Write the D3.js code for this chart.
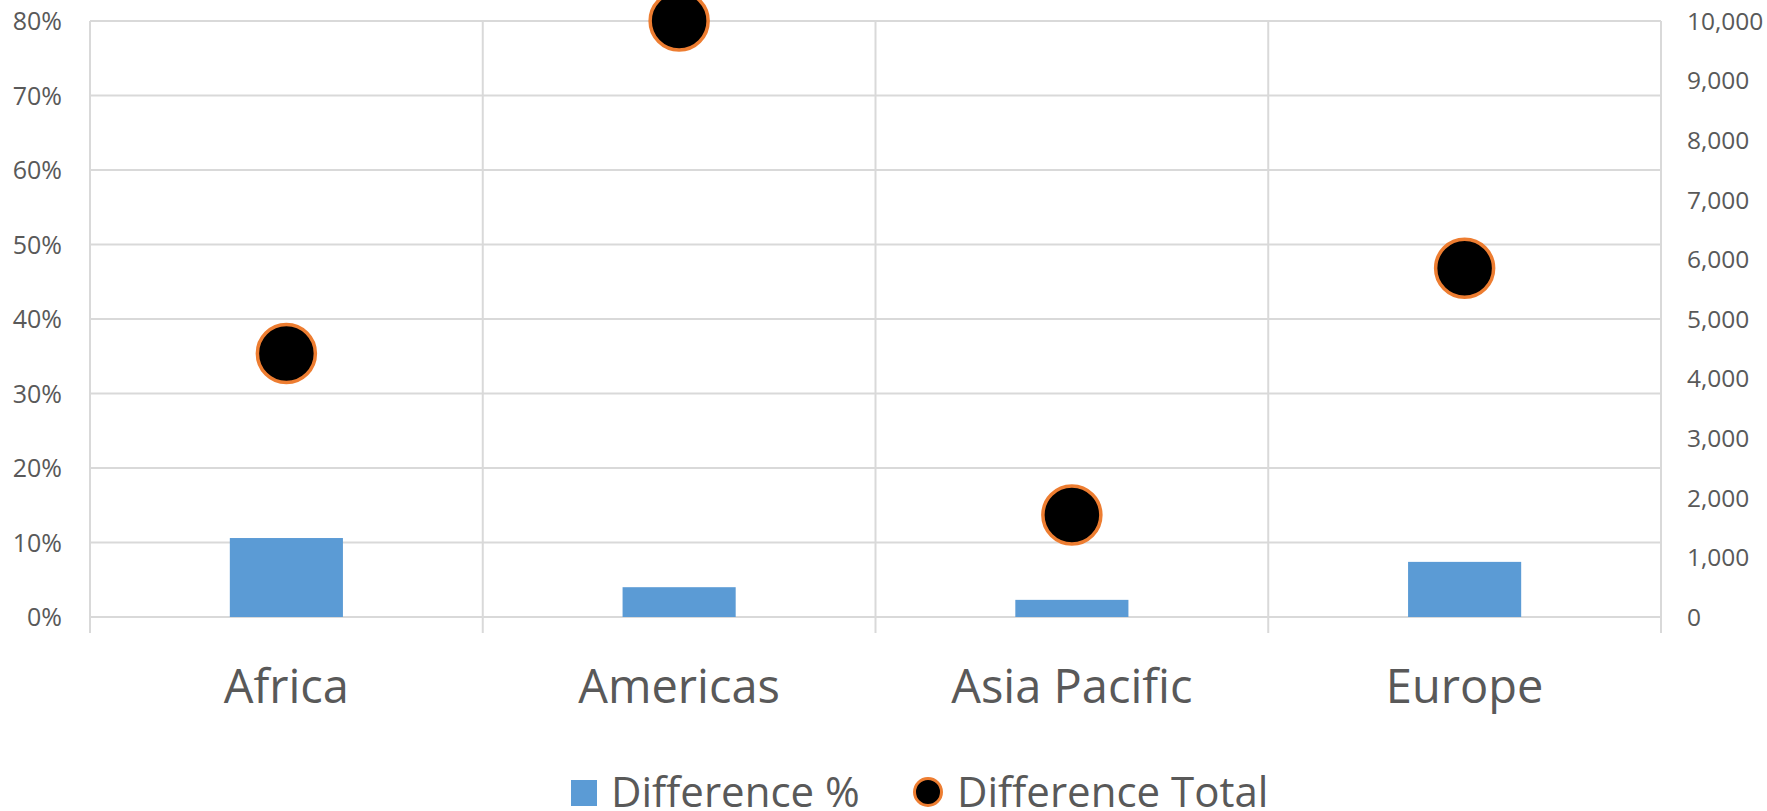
<!DOCTYPE html>
<html lang="en">
<head>
<meta charset="UTF-8">
<title>Difference by region</title>
<script src="https://d3js.org/d3.v7.min.js"></script>
<style>
  *{padding:0; margin:0; box-sizing:border-box;}
  body{background:#fff; width:1767px; height:811px; overflow:hidden;}
  text{font-family:"Open Sans", "Noto Sans", sans-serif; fill:#595959;}
  .grid{stroke:#d9d9d9; stroke-width:2;}
</style>
</head>
<body>
<script>
  // data
  const regions = ["Africa", "Americas", "Asia Pacific", "Europe"];
  const diffPct = [0.106, 0.040, 0.023, 0.074];
  const diffTotal = [4420, 10000, 1710, 5850];
  const pctTicks = [0, 0.1, 0.2, 0.3, 0.4, 0.5, 0.6, 0.7, 0.8];
  const totalTicks = [0, 1000, 2000, 3000, 4000, 5000, 6000, 7000, 8000, 9000, 10000];
  const legendNames = ["Difference %", "Difference Total"];

  const W = 1767, H = 811;
  // plot area edges (window.top is taken, so prefixed names)
  const plotL = 90, plotR = 1661, plotT = 21, plotB = 617;

  let svg = d3.select('body').append('svg').attr('width', W).attr('height', H);

  let x = d3.scaleBand().domain(regions).range([plotL, plotR]).padding(0);
  let yL = d3.scaleLinear().domain([0, 0.8]).range([plotB, plotT]);
  let yR = d3.scaleLinear().domain([0, 10000]).range([plotB, plotT]);

  // horizontal gridlines
  svg.append('g').selectAll('line').data(pctTicks).enter().append('line')
     .attr('class', 'grid')
     .attr('x1', plotL).attr('x2', plotR)
     .attr('y1', d => yL(d)).attr('y2', d => yL(d));

  // vertical category dividers (they run down past the baseline like ticks)
  let edges = regions.map(r => x(r)).concat([plotR]);
  svg.append('g').selectAll('line').data(edges).enter().append('line')
     .attr('class', 'grid')
     .attr('x1', d => d).attr('x2', d => d)
     .attr('y1', plotT).attr('y2', plotB + 16);

  // left axis labels
  svg.append('g').selectAll('text').data(pctTicks).enter().append('text')
     .attr('x', 62).attr('y', d => yL(d)).attr('dy', '0.36em')
     .attr('text-anchor', 'end').style('font-size', '25px')
     .text(d3.format('.0%'));

  // right axis labels
  svg.append('g').selectAll('text').data(totalTicks).enter().append('text')
     .attr('x', 1687).attr('y', d => yR(d)).attr('dy', '0.36em')
     .attr('text-anchor', 'start').style('font-size', '24.5px')
     .text(d3.format(','));

  // bars
  let bw = x.bandwidth() * 0.288;
  svg.append('g').selectAll('rect').data(regions).enter().append('rect')
     .attr('x', d => x(d) + x.bandwidth() / 2 - bw / 2)
     .attr('y', (d, i) => yL(diffPct[i]))
     .attr('width', bw)
     .attr('height', (d, i) => yL(0) - yL(diffPct[i]))
     .attr('fill', '#5b9bd5');

  // category labels
  svg.append('g').selectAll('text').data(regions).enter().append('text')
     .attr('x', d => x(d) + x.bandwidth() / 2).attr('y', 703)
     .attr('text-anchor', 'middle').style('font-size', '47px')
     .text(d => d);

  // dots
  svg.append('g').selectAll('circle').data(regions).enter().append('circle')
     .attr('cx', d => x(d) + x.bandwidth() / 2)
     .attr('cy', (d, i) => yR(diffTotal[i]))
     .attr('r', 29)
     .attr('fill', '#000')
     .attr('stroke', '#ed7d31').attr('stroke-width', 3.5);

  // legend
  let lg = svg.append('g');
  lg.append('rect').attr('x', 571).attr('y', 780).attr('width', 26).attr('height', 26).attr('fill', '#5b9bd5');
  lg.append('text').attr('x', 611).attr('y', 807).style('font-size', '42px').text(legendNames[0]);
  lg.append('circle').attr('cx', 928).attr('cy', 792).attr('r', 13.5)
    .attr('fill', '#000').attr('stroke', '#ed7d31').attr('stroke-width', 3);
  lg.append('text').attr('x', 957).attr('y', 807).style('font-size', '42px').text(legendNames[1]);
</script>
</body>
</html>
